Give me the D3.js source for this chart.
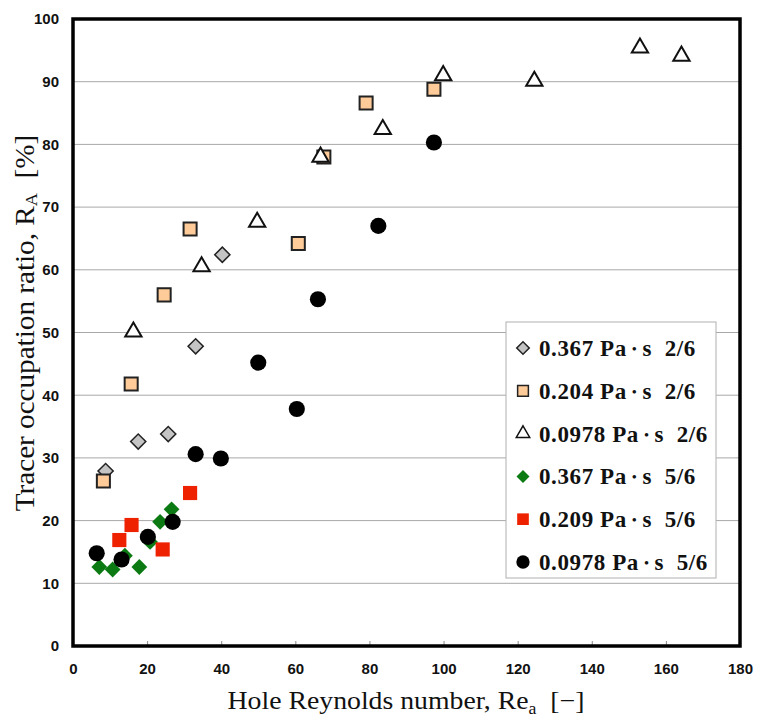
<!DOCTYPE html>
<html>
<head>
<meta charset="utf-8">
<script src="https://cdn.jsdelivr.net/npm/d3@7.9.0/dist/d3.min.js"></script>
<style>
  html, body { margin: 0; padding: 0; background: #fff; }
  svg { display: block; }
</style>
</head>
<body>
<svg></svg>
<script>
const width = 758;
const height = 719;
const margin = { top: 19, right: 18, bottom: 73, left: 73 };

// 0.367 Pa·s 2/6 (gray diamonds)
const gray367X = [8.8, 17.6, 25.7, 33.1, 40.3];
const gray367Y = [27.9, 32.6, 33.8, 47.8, 62.4];
// 0.204 Pa·s 2/6 (peach squares)
const peach204X = [8.2, 15.7, 24.6, 31.6, 60.8, 67.7, 79.1, 97.4];
const peach204Y = [26.3, 41.8, 56.0, 66.5, 64.2, 78.0, 86.6, 88.8];
// 0.0978 Pa·s 2/6 (open triangles)
const tri0978X = [16.3, 34.7, 49.7, 66.8, 83.6, 99.9, 124.5, 153.0, 164.2];
const tri0978Y = [50.1, 60.5, 67.6, 78.0, 82.4, 91.0, 90.1, 95.4, 94.1];
// 0.367 Pa·s 5/6 (green diamonds)
const green367X = [7.1, 10.7, 14.0, 17.9, 20.8, 23.5, 26.6];
const green367Y = [12.6, 12.2, 14.4, 12.6, 16.6, 19.8, 21.8];
// 0.209 Pa·s 5/6 (red squares)
const red209X = [12.5, 15.8, 24.2, 31.6];
const red209Y = [16.9, 19.3, 15.4, 24.4];
// 0.0978 Pa·s 5/6 (black circles)
const dot0978X = [6.4, 13.1, 20.2, 26.9, 33.1, 39.9, 50.0, 60.4, 66.1, 82.4, 97.4];
const dot0978Y = [14.8, 13.8, 17.4, 19.8, 30.6, 29.9, 45.2, 37.8, 55.3, 67.0, 80.3];

const xTicks = [0, 20, 40, 60, 80, 100, 120, 140, 160, 180];
const yTicks = [0, 10, 20, 30, 40, 50, 60, 70, 80, 90, 100];

const series = [
  { label: "0.367 Pa\u2022s  2/6", xs: gray367X, ys: gray367Y, shape: "diamond", fill: "#c4c4c4", stroke: "#222", sw: 1.5, size: 115 },
  { label: "0.204 Pa\u2022s  2/6", xs: peach204X, ys: peach204Y, shape: "square", fill: "#ffcc99", stroke: "#222", sw: 2, size: 170 },
  { label: "0.0978 Pa\u2022s  2/6", xs: tri0978X, ys: tri0978Y, shape: "triangle", fill: "#fff", stroke: "#111", sw: 2, size: 115 },
  { label: "0.367 Pa\u2022s  5/6", xs: green367X, ys: green367Y, shape: "diamond", fill: "#0b7a12", stroke: "none", sw: 0, size: 125 },
  { label: "0.209 Pa\u2022s  5/6", xs: red209X, ys: red209Y, shape: "square", fill: "#ee2200", stroke: "none", sw: 0, size: 200 },
  { label: "0.0978 Pa\u2022s  5/6", xs: dot0978X, ys: dot0978Y, shape: "circle", fill: "#000", stroke: "none", sw: 0, size: 205 }
];

const svg = d3.select("svg")
  .attr("width", width)
  .attr("height", height);

const x = d3.scaleLinear().domain([0, 180]).range([margin.left, width - margin.right]);
const y = d3.scaleLinear().domain([0, 100]).range([height - margin.bottom, margin.top]);

const symbolFor = {
  diamond: d3.symbolSquare,
  square: d3.symbolSquare,
  triangle: d3.symbolTriangle,
  circle: d3.symbolCircle
};

function markPath(s, scale = 1) {
  return d3.symbol().type(symbolFor[s.shape]).size(s.size * scale)();
}

// gridlines
svg.append("g")
  .selectAll("line")
  .data(yTicks.filter(d => d > 0 && d < 100))
  .join("line")
  .attr("x1", x(0)).attr("x2", x(180))
  .attr("y1", d => y(d)).attr("y2", d => y(d))
  .attr("stroke", "#a8a8a8")
  .attr("stroke-width", 1);

// y axis labels
svg.append("g")
  .attr("transform", `translate(${x(0) - 14},0)`)
  .call(d3.axisLeft(y).tickValues(yTicks).tickSize(0).tickPadding(0))
  .call(g => g.select(".domain").remove())
  .selectAll("text")
  .attr("font-family", "Liberation Sans, Arial, sans-serif")
  .attr("font-weight", "bold")
  .attr("font-size", 15)
  .attr("fill", "#111");

// x axis: small ticks pointing inward, labels below
svg.append("g")
  .attr("transform", `translate(0,${y(0)})`)
  .call(d3.axisBottom(x).tickValues(xTicks).tickSize(-5).tickPadding(17))
  .call(g => g.select(".domain").remove())
  .call(g => g.selectAll("line").attr("stroke", "#888"))
  .selectAll("text")
  .attr("font-family", "Liberation Sans, Arial, sans-serif")
  .attr("font-weight", "bold")
  .attr("font-size", 15)
  .attr("fill", "#111");

// frame
svg.append("rect")
  .attr("x", x(0)).attr("y", y(100))
  .attr("width", x(180) - x(0))
  .attr("height", y(0) - y(100))
  .attr("fill", "none")
  .attr("stroke", "#000")
  .attr("stroke-width", 3.5);

// points
series.forEach(s => {
  const pts = s.xs.map((v, i) => [v, s.ys[i]]);
  svg.append("g")
    .selectAll("path")
    .data(pts)
    .join("path")
    .attr("d", markPath(s))
    .attr("transform", d => `translate(${x(d[0])},${y(d[1])})${s.shape === "diamond" ? " rotate(45)" : ""}`)
    .attr("fill", s.fill)
    .attr("stroke", s.stroke)
    .attr("stroke-width", s.sw);
});

// legend
const lg = svg.append("g").attr("transform", "translate(506,322)");
lg.append("rect")
  .attr("width", 210).attr("height", 256)
  .attr("fill", "#fff")
  .attr("stroke", "#b0b0b0")
  .attr("stroke-width", 1);

const rows = lg.selectAll("g.row")
  .data(series)
  .join("g")
  .attr("class", "row")
  .attr("transform", (d, i) => `translate(0,${26 + i * 42.8})`);

rows.append("path")
  .attr("d", d => markPath(d, 0.68))
  .attr("transform", d => `translate(17,0)${d.shape === "diamond" ? " rotate(45)" : ""}`)
  .attr("fill", d => d.fill)
  .attr("stroke", d => d.stroke)
  .attr("stroke-width", d => d.sw ? 1.5 : 0);

const lt = rows.append("text")
  .attr("x", 33)
  .attr("y", 8)
  .attr("font-family", "Liberation Serif, Times New Roman, serif")
  .attr("font-weight", "bold")
  .attr("font-size", 23)
  .attr("letter-spacing", 0.6)
  .attr("fill", "#111")
  .attr("xml:space", "preserve");
lt.append("tspan").text(d => d.label.split("\u2022")[0] + "\u2009");
lt.append("tspan").attr("font-size", 13).attr("dy", -3).text("\u2022");
lt.append("tspan").attr("dy", 3).text(d => "\u2009" + d.label.split("\u2022")[1]);

// axis titles
const xt = svg.append("text")
  .attr("transform", "translate(406,709) scale(1.11,1)")
  .attr("text-anchor", "middle")
  .attr("font-family", "Liberation Serif, Times New Roman, serif")
  .attr("font-size", 25)
  .attr("fill", "#111")
  .attr("xml:space", "preserve");
xt.append("tspan").text("Hole Reynolds number, Re");
xt.append("tspan").attr("font-size", 16).attr("dy", 5).text("a");
xt.append("tspan").attr("dy", -5).text("  [\u2212]");

const yt = svg.append("text")
  .attr("transform", "translate(34,323) rotate(-90) scale(1.08,1)")
  .attr("text-anchor", "middle")
  .attr("font-family", "Liberation Serif, Times New Roman, serif")
  .attr("font-size", 27)
  .attr("fill", "#111")
  .attr("xml:space", "preserve");
yt.append("tspan").text("Tracer occupation ratio, R");
yt.append("tspan").attr("font-size", 17).attr("dy", 3).text("A");
yt.append("tspan").attr("dy", -3).text("  [%]");
</script>
</body>
</html>
